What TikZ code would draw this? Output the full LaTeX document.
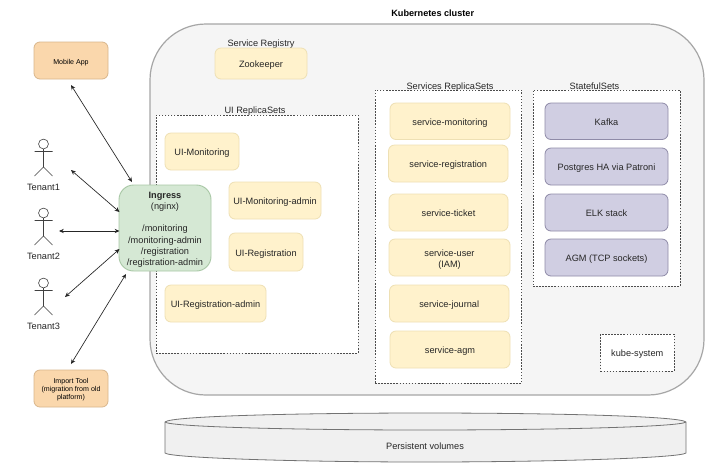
\documentclass[tikz,border=0pt]{standalone}
\usepackage{fontspec}
\setmainfont{Liberation Sans}
\usetikzlibrary{arrows.meta}
\definecolor{yf}{HTML}{FFF2CC}\definecolor{ys}{HTML}{EEE0B4}
\definecolor{of}{HTML}{FAD7AC}\definecolor{os}{HTML}{D9B68C}
\definecolor{gf}{HTML}{D5E8D4}\definecolor{gs}{HTML}{A9C8A6}
\definecolor{pf}{HTML}{D0CEE2}\definecolor{ps}{HTML}{8F8BA8}
\definecolor{txt}{HTML}{262626}
\tikzset{
 x=0.75pt,y=-0.75pt,
 every node/.style={font=\fontsize{6.9pt}{8.3pt}\selectfont,text=txt,align=center,inner sep=0pt,text height=6pt,text depth=0pt},
 ml/.style={text height=,text depth=},
 bx/.style={rounded corners=4.5pt,line width=0.6pt},
 yel/.style={bx,draw=ys,fill=yf},
 org/.style={bx,draw=os,fill=of,font=\fontsize{5.3pt}{6.2pt}\selectfont,text=black},
 pur/.style={bx,draw=ps,fill=pf},
 grn/.style={draw=gs,fill=gf,rounded corners=11pt,line width=0.7pt},
 dsh/.style={draw=black!70,line width=0.45pt,dash pattern=on 1.2pt off 1.1pt,fill=white},
 lnk/.style={draw=black!85,line width=0.5pt,{Stealth[length=3.6pt,width=3.2pt]}-{Stealth[length=3.6pt,width=3.2pt]}},
 stick/.style={draw=black!75,line width=0.45pt},
 cyl/.style={draw=black!55,fill=black!6,line width=0.6pt},
}
\newcommand{\actor}[2]{%
 \draw[stick,fill=white] (43.5,#2) circle[radius=3.7pt];
 \draw[stick] (43.5,#2+5) -- (43.5,#2+23) (34.5,#2+7.5) -- (52.5,#2+7.5) (34.5,#2+32) -- (43.5,#2+23) -- (52.5,#2+32);}
\begin{document}
\begin{tikzpicture}
\useasboundingbox (0,0) rectangle (716,469);
\fill[white] (0,0) rectangle (716,469);
% cluster
\node[draw=black!35,fill=black!4,line width=0.9pt,rounded corners=42pt,minimum width=554*0.75pt,minimum height=371*0.75pt] (cluster) at (427,209.5) {};
\node[font=\fontsize{6.85pt}{8pt}\selectfont\bfseries,text=black] (clusterlabel) at (432.7,12) {Kubernetes cluster};
% cylinder
\path[cyl] (165,422) .. controls (170,416) and (300,413) .. (425,413) .. controls (550,413) and (680,416) .. (686,422) -- (686,453) .. controls (680,458) and (550,462) .. (425,462) .. controls (300,462) and (170,458) .. (165,453) -- cycle;
\draw[cyl,fill=none] (165,422) .. controls (170,427) and (300,430) .. (425,430) .. controls (550,430) and (680,427) .. (686,422);
\node (pv) at (425,445) {Persistent volumes};
% groups
\node[dsh,minimum width=202*0.75pt,minimum height=238*0.75pt] (uigroup) at (257,234) {};
\node[dsh,minimum width=146.5*0.75pt,minimum height=293*0.75pt] (svcgroup) at (448.25,236.5) {};
\node[dsh,minimum width=147*0.75pt,minimum height=196*0.75pt] (stgroup) at (606.5,188) {};
\node[dsh,minimum width=73.5*0.75pt,minimum height=37*0.75pt] (kube) at (637.25,352.5) {kube-system};
\node (srlabel) at (261,42) {Service Registry};
\node (uilabel) at (255,109) {UI ReplicaSets};
\node (svclabel) at (450,85) {Services ReplicaSets};
\node (stlabel) at (594.5,85) {StatefulSets};
% boxes
\node[yel,minimum width=92*0.75pt,minimum height=31*0.75pt] (zk) at (261,63.5) {Zookeeper};
\node[yel,minimum width=74*0.75pt,minimum height=37*0.75pt] (uim) at (202,151.5) {UI-Monitoring};
\node[yel,minimum width=92*0.75pt,minimum height=37*0.75pt] (uima) at (275,200.5) {UI-Monitoring-admin};
\node[yel,minimum width=74*0.75pt,minimum height=38*0.75pt] (uir) at (266,252) {UI-Registration};
\node[yel,minimum width=101*0.75pt,minimum height=37*0.75pt] (uira) at (215.5,303.5) {UI-Registration-admin};
\node[yel,minimum width=120*0.75pt,minimum height=36.5*0.75pt] (s1) at (450,121.25) {service-monitoring};
\node[yel,minimum width=119.5*0.75pt,minimum height=37*0.75pt] (s2) at (448.25,163.5) {service-registration};
\node[yel,minimum width=119*0.75pt,minimum height=37*0.75pt] (s3) at (448.5,212.5) {service-ticket};
\node[yel,ml,minimum width=121*0.75pt,minimum height=37*0.75pt] (s4) at (449.5,257.5) {\rule{0pt}{8pt}service-user\\(IAM)};
\node[yel,minimum width=119.5*0.75pt,minimum height=37*0.75pt] (s5) at (449.25,303.5) {service-journal};
\node[yel,minimum width=120*0.75pt,minimum height=37*0.75pt] (s6) at (450,349.5) {service-agm};
\node[pur,minimum width=123*0.75pt,minimum height=36.5*0.75pt] (p1) at (606.5,121.25) {Kafka};
\node[pur,minimum width=123*0.75pt,minimum height=37*0.75pt] (p2) at (606.5,166.5) {Postgres HA via Patroni};
\node[pur,minimum width=123*0.75pt,minimum height=37*0.75pt] (p3) at (606.5,212.5) {ELK stack};
\node[pur,minimum width=123*0.75pt,minimum height=37*0.75pt] (p4) at (606.5,257.5) {AGM (TCP sockets)};
\node[org,minimum width=74*0.75pt,minimum height=37*0.75pt] (mobile) at (71,60.5) {Mobile App};
\node[org,ml,minimum width=74*0.75pt,minimum height=37*0.75pt] (import) at (71,388.5) {\rule{0pt}{5.4pt}Import Tool\\(migration from old\\platform)};
\node[grn,ml,minimum width=92*0.75pt,minimum height=86*0.75pt] (ingress) at (165,228) {\rule{0pt}{7.4pt}{\bfseries Ingress}\\(nginx)\\[8.3pt]/monitoring\\/monitoring-admin\\/registration\\/registration-admin};
% actors
\actor{1}{144}\actor{2}{213}\actor{3}{283}
\node (t1) at (43.5,186) {Tenant1};
\node (t2) at (43.5,255) {Tenant2};
\node (t3) at (43.5,325) {Tenant3};
% connector ends
\coordinate (mobileend) at (71,85);
\coordinate (ingtop) at (132,182);
\coordinate (t1end) at (71,170);
\coordinate (ing1) at (119.5,212);
\coordinate (t2end) at (59,231);
\coordinate (ing2) at (119.5,231);
\coordinate (t3end) at (65,297);
\coordinate (ing3) at (119.5,249);
\coordinate (importend) at (71,364);
\coordinate (ingbot) at (126,274);
\draw[lnk] (mobileend) -- (ingtop);
\draw[lnk] (t1end) -- (ing1);
\draw[lnk] (t2end) -- (ing2);
\draw[lnk] (t3end) -- (ing3);
\draw[lnk] (importend) -- (ingbot);
\end{tikzpicture}
\end{document}
